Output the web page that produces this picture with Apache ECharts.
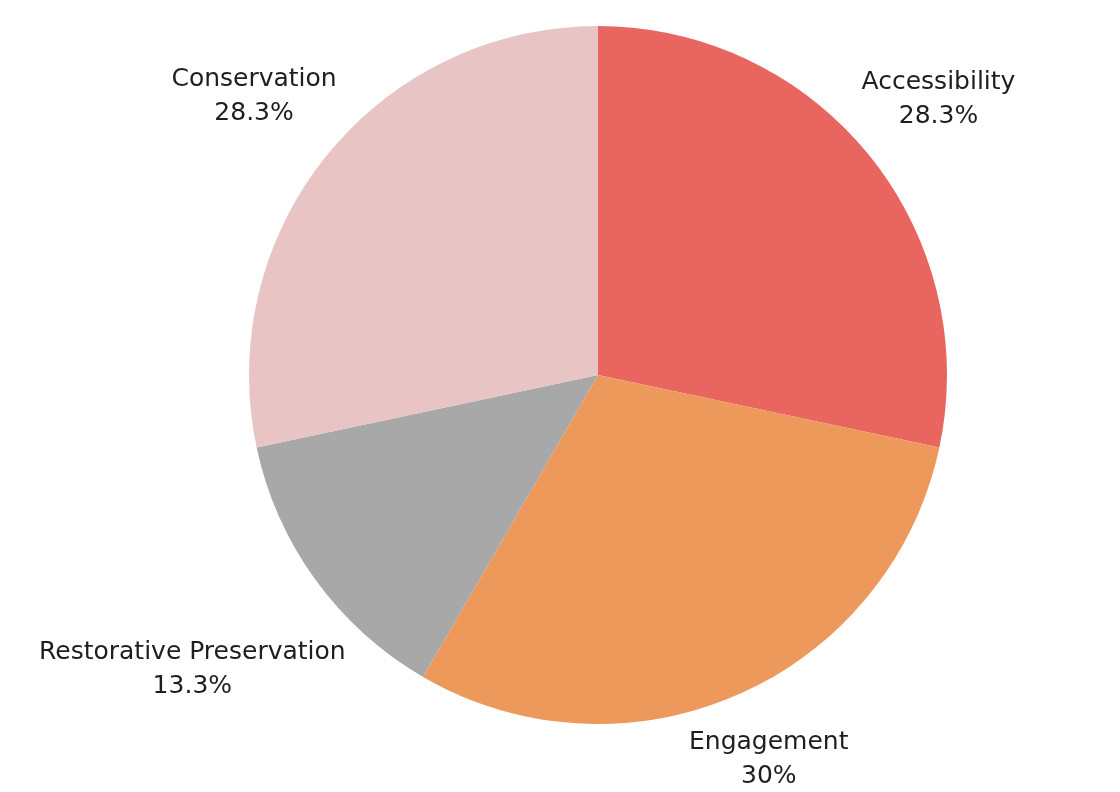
<!DOCTYPE html>
<html>
<head>
<meta charset="utf-8">
<script src="https://cdn.jsdelivr.net/npm/echarts@6/dist/echarts.min.js"></script>
<style>
  html, body { margin: 0; padding: 0; background: #fff; }
  #main { width: 1120px; height: 792px; }
</style>
</head>
<body>
<div id="main"></div>
<script>
// pie data, clockwise from 12 o'clock
var categories = ['Accessibility', 'Engagement', 'Restorative Preservation', 'Conservation'];
var shares = [28.3, 30, 13.3, 28.3];
var shareLabels = ['28.3%', '30%', '13.3%', '28.3%'];
var colors = ['#E96560', '#EE995C', '#A8A8A8', '#E8C4C4'];

var cx = 598, cy = 375, R = 349;
var gap = 8;

var total = shares.reduce(function (a, b) { return a + b; }, 0);
var midAngles = [];
var acc = 0;
shares.forEach(function (v) {
    midAngles.push((acc + v / 2) / total * Math.PI * 2);
    acc += v;
});

var chart = echarts.init(document.getElementById('main'));

chart.setOption({
    backgroundColor: '#fff',
    animation: false,
    series: [{
        type: 'pie',
        center: [cx, cy],
        radius: [0, R],
        startAngle: 90,
        clockwise: true,
        data: categories.map(function (name, i) {
            return { name: name, value: shares[i], itemStyle: { color: colors[i] } };
        }),
        label: {
            show: true,
            position: 'outside',
            formatter: function (p) { return p.name + '\n' + shareLabels[p.dataIndex]; },
            fontFamily: 'DejaVu Sans',
            fontSize: 25,
            lineHeight: 34,
            color: '#1e1e1e',
            align: 'center',
            overflow: 'none'
        },
        labelLine: { show: false },
        // put each label box just outside the rim, centred on the slice's mid angle
        labelLayout: function (p) {
            var a = midAngles[p.dataIndex];
            var s = Math.sin(a), c = Math.cos(a);
            var w = p.labelRect.width, h = p.labelRect.height;
            var d = R + gap + Math.abs(s) * w / 2 + Math.abs(c) * h / 2;
            return {
                x: cx + s * d,
                y: cy - c * d,
                align: 'center',
                verticalAlign: 'middle'
            };
        },
        emphasis: { disabled: true }
    }]
});
</script>
</body>
</html>
